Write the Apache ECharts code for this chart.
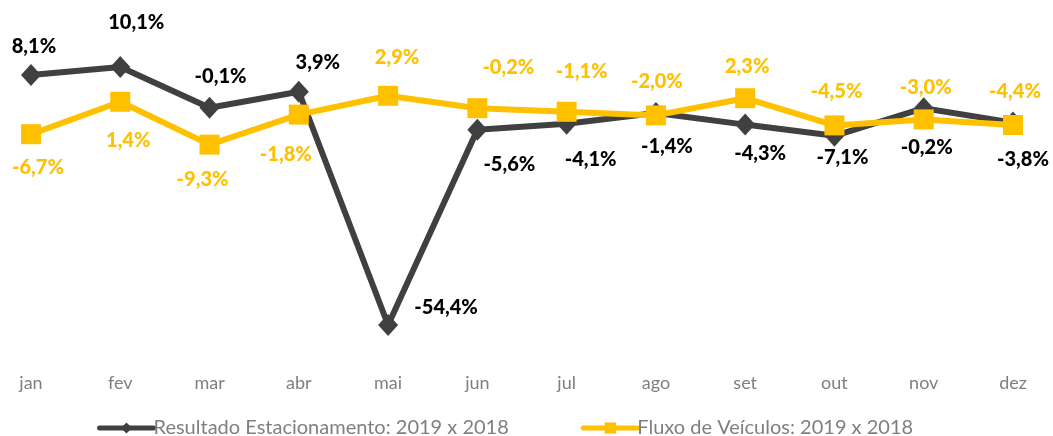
<!DOCTYPE html>
<html>
<head>
<meta charset="utf-8">
<script src="https://cdn.jsdelivr.net/npm/echarts@6/dist/echarts.min.js"></script>
<style>
  html, body { margin: 0; padding: 0; background: #ffffff; }
  #chart { width: 1053px; height: 436px; }
</style>
</head>
<body>
<div id="chart"></div>
<script>
// ---- data ----
const categories = ['jan', 'fev', 'mar', 'abr', 'mai', 'jun', 'jul', 'ago', 'set', 'out', 'nov', 'dez'];
const seriesNames = ['Resultado Estacionamento: 2019 x 2018', 'Fluxo de Veículos: 2019 x 2018'];
const estacionamento = [8.1, 10.1, -0.1, 3.9, -54.4, -5.6, -4.1, -1.4, -4.3, -7.1, -0.2, -3.8];
const fluxo = [-6.7, 1.4, -9.3, -1.8, 2.9, -0.2, -1.1, -2.0, 2.3, -4.5, -3.0, -4.4];

// ---- label layout (offsets of label centre from the marker) ----
const estLabelOffsets = [[3,-28],[16,-44],[11,-31],[19,-29],[58,-17],[32,35],[24,36],[11,34],[15,29],[8,22],[3,39],[10,37]];
const fluxoLabelOffsets = [[7,33],[8,39],[-7,35],[-13,40],[9,-38],[31,-41],[15,-40],[1,-34],[2,-32],[2,-34],[2,-32],[2,-33]];

const fmt = v => v.toFixed(1).replace('.', ',') + '%';

function build(values, offsets) {
  return values.map((v, i) => ({
    value: v,
    label: { offset: offsets[i] }
  }));
}

const chart = echarts.init(document.getElementById('chart'), null, { renderer: 'canvas' });
const labelFont = 'Lato';

chart.setOption({
  animation: false,
  backgroundColor: '#ffffff',
  grid: { left: 31, right: 40, top: 27.4, bottom: 88.6, containLabel: false },
  xAxis: {
    type: 'category',
    data: categories,
    boundaryGap: false,
    axisLine: { show: false },
    axisTick: { show: false },
    axisLabel: { color: '#7f7f7f', fontFamily: labelFont, fontSize: 18, margin: 27 },
    splitLine: { show: false }
  },
  yAxis: {
    type: 'value',
    min: -60, max: 20,
    show: false,
    splitLine: { show: false }
  },
  legend: {
    left: 92,
    top: 413,
    itemWidth: 54,
    itemHeight: 14,
    itemGap: 72,
    lineStyle: { width: 5, cap: 'round' },
    textStyle: { color: '#7f7f7f', fontFamily: labelFont, fontSize: 20, padding: [0, 0, 0, -5] },
    data: seriesNames
  },
  series: [
    {
      name: seriesNames[0],
      type: 'line',
      data: build(estacionamento, estLabelOffsets),
      symbol: 'diamond',
      symbolSize: [20, 22],
      lineStyle: { color: '#404040', width: 6 },
      itemStyle: { color: '#404040' },
      label: {
        show: true,
        position: 'inside',
        formatter: p => fmt(p.value),
        color: '#000000',
        fontFamily: labelFont,
        fontWeight: 900,
        fontSize: 20,
        align: 'center',
        verticalAlign: 'middle'
      },
      z: 2
    },
    {
      name: seriesNames[1],
      type: 'line',
      data: build(fluxo, fluxoLabelOffsets),
      symbol: 'rect',
      symbolSize: 20,
      lineStyle: { color: '#FFC000', width: 6 },
      itemStyle: { color: '#FFC000' },
      label: {
        show: true,
        position: 'inside',
        formatter: p => fmt(p.value),
        color: '#FFC000',
        fontFamily: labelFont,
        fontWeight: 900,
        fontSize: 20,
        align: 'center',
        verticalAlign: 'middle'
      },
      z: 3
    }
  ]
});
</script>
</body>
</html>
